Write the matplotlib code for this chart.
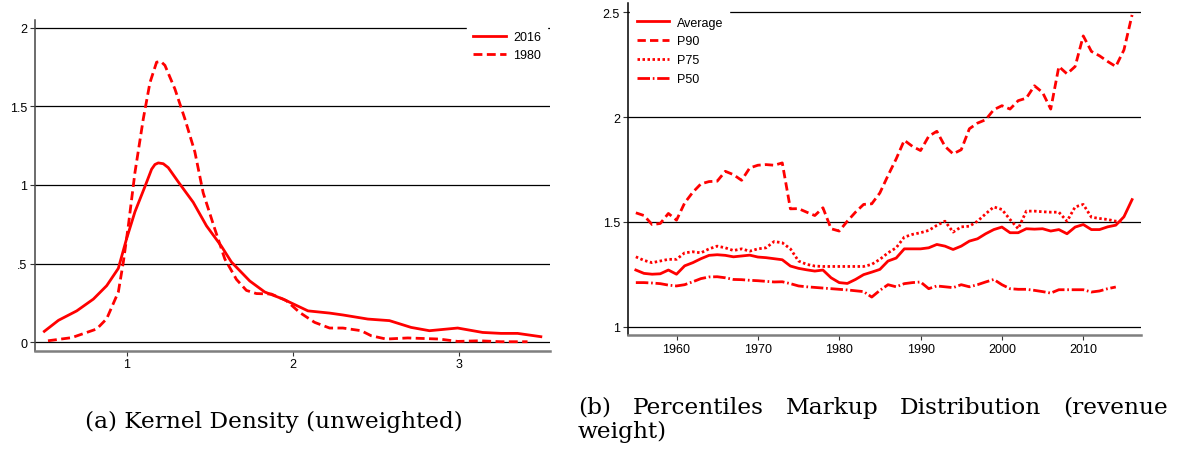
import matplotlib
matplotlib.use("Agg")
import matplotlib.pyplot as plt

# ---------------------------------------------------------------------------
# Dados
# ---------------------------------------------------------------------------
# (a) densidade kernel
kd_x_2016 = [0.505, 0.59, 0.70, 0.80, 0.88, 0.95, 1.00, 1.05, 1.11, 1.15, 1.17,
             1.19, 1.22, 1.25, 1.31, 1.40, 1.48, 1.57, 1.63, 1.74, 1.83, 1.94,
             2.00, 2.09, 2.22, 2.30, 2.45, 2.58, 2.71, 2.82, 2.99, 3.14, 3.25,
             3.35, 3.49]
kd_y_2016 = [0.07, 0.14, 0.20, 0.275, 0.36, 0.47, 0.66, 0.83, 0.99, 1.10, 1.13,
             1.14, 1.135, 1.11, 1.02, 0.89, 0.74, 0.61, 0.51, 0.39, 0.32, 0.275,
             0.245, 0.20, 0.186, 0.174, 0.148, 0.138, 0.095, 0.074, 0.091, 0.063,
             0.057, 0.057, 0.036]

kd_x_1980 = [0.527, 0.67, 0.82, 0.88, 0.95, 0.98, 1.01, 1.05, 1.10, 1.14, 1.18,
             1.205, 1.23, 1.29, 1.35, 1.41, 1.46, 1.53, 1.59, 1.66, 1.72, 1.78,
             1.87, 1.96, 2.04, 2.13, 2.22, 2.30, 2.41, 2.47, 2.56, 2.69, 2.88,
             2.99, 3.12, 3.25, 3.41]
kd_y_1980 = [0.01, 0.03, 0.085, 0.15, 0.32, 0.51, 0.74, 1.08, 1.42, 1.65, 1.78,
             1.785, 1.76, 1.61, 1.42, 1.21, 0.95, 0.72, 0.53, 0.40, 0.33, 0.31,
             0.307, 0.265, 0.19, 0.127, 0.091, 0.091, 0.074, 0.042, 0.021, 0.028,
             0.021, 0.006, 0.01, 0.004, 0.004]

# (b) percentis do markup
anos = list(range(1955, 2017))
media = [1.27, 1.254, 1.25, 1.252, 1.27, 1.25, 1.29, 1.305, 1.324, 1.34,
         1.343, 1.34, 1.333, 1.337, 1.341, 1.332, 1.329, 1.324, 1.319, 1.289,
         1.278, 1.271, 1.265, 1.27, 1.233, 1.21, 1.206, 1.225, 1.248, 1.26,
         1.273, 1.313, 1.327, 1.371, 1.371, 1.371, 1.376, 1.392, 1.384, 1.368,
         1.384, 1.408, 1.419, 1.443, 1.463, 1.475, 1.448, 1.448, 1.467, 1.465,
         1.467, 1.456, 1.463, 1.443, 1.475, 1.487, 1.463, 1.463, 1.476, 1.484,
         1.524, 1.606]
p90 = [1.543, 1.53, 1.487, 1.492, 1.54, 1.508, 1.59, 1.641, 1.681, 1.692,
       1.694, 1.741, 1.725, 1.698, 1.757, 1.770, 1.773, 1.770, 1.781, 1.562,
       1.563, 1.546, 1.53, 1.567, 1.467, 1.456, 1.503, 1.546, 1.583, 1.586,
       1.638, 1.721, 1.80, 1.889, 1.86, 1.84, 1.908, 1.932, 1.86, 1.824,
       1.844, 1.944, 1.971, 1.987, 2.035, 2.054, 2.038, 2.078, 2.09, 2.149,
       2.117, 2.038, 2.241, 2.206, 2.241, 2.387, 2.313, 2.292, 2.265, 2.241,
       2.32, 2.487]
anos_p75 = list(range(1955, 2016))
p75 = [1.333, 1.316, 1.305, 1.313, 1.321, 1.321, 1.352, 1.357, 1.352, 1.371,
       1.384, 1.376, 1.363, 1.371, 1.36, 1.371, 1.376, 1.406, 1.40, 1.371,
       1.313, 1.297, 1.289, 1.287, 1.287, 1.287, 1.287, 1.287, 1.287, 1.297,
       1.321, 1.352, 1.376, 1.427, 1.44, 1.448, 1.459, 1.483, 1.503, 1.451,
       1.476, 1.479, 1.503, 1.538, 1.571, 1.559, 1.511, 1.467, 1.551, 1.551,
       1.548, 1.546, 1.546, 1.503, 1.571, 1.583, 1.522, 1.516, 1.511, 1.503,
       1.50]
anos_p50 = list(range(1955, 2015))
p50 = [1.21, 1.21, 1.208, 1.205, 1.198, 1.194, 1.20, 1.214, 1.229, 1.237,
       1.238, 1.233, 1.225, 1.224, 1.221, 1.219, 1.216, 1.213, 1.214, 1.205,
       1.194, 1.19, 1.187, 1.184, 1.181, 1.178, 1.175, 1.171, 1.167, 1.141,
       1.173, 1.20, 1.19, 1.205, 1.21, 1.213, 1.181, 1.194, 1.19, 1.186,
       1.20, 1.19, 1.20, 1.213, 1.225, 1.20, 1.181, 1.178, 1.178, 1.173,
       1.167, 1.16, 1.176, 1.176, 1.176, 1.176, 1.165, 1.17, 1.181, 1.189]

kd_yticks = [0, 0.5, 1, 1.5, 2]
kd_yticklabels = ["0", ".5", "1", "1.5", "2"]
kd_xticks = [1, 2, 3]
pc_yticks = [1, 1.5, 2, 2.5]
pc_yticklabels = ["1", "1.5", "2", "2.5"]
pc_xticks = [1960, 1970, 1980, 1990, 2000, 2010]

legenda_a = "(a) Kernel Density (unweighted)"
legenda_b1 = ["(b)", "Percentiles", "Markup", "Distribution", "(revenue"]
legenda_b2 = "weight)"

VERMELHO = "#ff0000"
CINZA = "#7f7f7f"
W, H = 1177, 452

plt.rcParams["font.family"] = ["Liberation Sans", "DejaVu Sans"]
SERIF = ["DejaVu Serif"]


def estilo_eixo(ax, yticks, yticklabels, xticks, cor_esq):
    for s in ("top", "right"):
        ax.spines[s].set_visible(False)
    ax.spines["left"].set_color(cor_esq)
    ax.spines["left"].set_linewidth(1.1)
    ax.spines["bottom"].set_color(CINZA)
    ax.spines["bottom"].set_linewidth(1.8)
    for y in yticks:
        ax.axhline(y, color="black", linewidth=0.9, zorder=1)
    ax.set_yticks(yticks)
    ax.set_yticklabels(yticklabels)
    ax.set_xticks(xticks)
    ax.tick_params(axis="both", direction="out", length=3.6, width=0.8,
                   color="#333333", labelsize=9, pad=2)


def px_ax(x0, x1, y0, y1):
    return [x0 / W, 1 - y1 / H, (x1 - x0) / W, (y1 - y0) / H]


def fy(y):
    return 1 - y / H


fig = plt.figure(figsize=(W / 100, H / 100), dpi=100)

# ---------------------------------------------------------------------------
# (a) Kernel density
# ---------------------------------------------------------------------------
ax1 = fig.add_axes(px_ax(35, 550, 21, 351.7))
ax1.plot(kd_x_2016, kd_y_2016, color=VERMELHO, linewidth=2.0, zorder=3,
         solid_joinstyle="round", label="2016")
ax1.plot(kd_x_1980, kd_y_1980, color=VERMELHO, linewidth=2.0, zorder=3,
         dashes=(3.2, 1.6), label="1980")
ax1.set_xlim(0.449, 3.545)
ax1.set_ylim(-0.053, 2.048)
estilo_eixo(ax1, kd_yticks, kd_yticklabels, kd_xticks, "#444444")
ax1.legend(loc="upper right", bbox_to_anchor=(0.995, 0.985), fontsize=9,
           frameon=True, fancybox=False, framealpha=1, edgecolor="white",
           facecolor="white", handlelength=2.6, handletextpad=0.6,
           labelspacing=0.5, borderpad=0.5, borderaxespad=0)

# ---------------------------------------------------------------------------
# (b) Percentis
# ---------------------------------------------------------------------------
ax2 = fig.add_axes(px_ax(627.7, 1140.7, 4, 336))
ax2.plot(anos, media, color=VERMELHO, linewidth=2.0, zorder=3,
         solid_joinstyle="round", label="Average")
ax2.plot(anos, p90, color=VERMELHO, linewidth=2.0, zorder=3,
         dashes=(3.0, 1.5), label="P90")
ax2.plot(anos_p75, p75, color=VERMELHO, linewidth=2.0, zorder=3,
         dashes=(0.9, 0.9), label="P75")
ax2.plot(anos_p50, p50, color=VERMELHO, linewidth=2.0, zorder=3,
         dashes=(4.5, 1.0, 0.6, 1.0), label="P50")
ax2.set_xlim(1954, 2017.06)
ax2.set_ylim(0.96, 2.544)
estilo_eixo(ax2, pc_yticks, pc_yticklabels, pc_xticks, "black")
ax2.legend(loc="upper left", bbox_to_anchor=(0.005, 0.978), fontsize=9,
           frameon=True, fancybox=False, framealpha=1, edgecolor="white",
           facecolor="white", handlelength=2.6, handletextpad=0.6,
           labelspacing=0.55, borderpad=0.5, borderaxespad=0)

# ---------------------------------------------------------------------------
# Legendas das subfiguras (tamanho ajustado à largura medida)
# ---------------------------------------------------------------------------
renderer = fig.canvas.get_renderer()
tamanho = 15
ta = fig.text(274 / W, fy(422), legenda_a, family=SERIF, fontsize=tamanho,
              ha="center", va="center")
larg = ta.get_window_extent(renderer).width
tamanho = tamanho * 380 / larg
ta.set_fontsize(tamanho)

# linha 1 de (b) justificada entre x=578 e x=1168
x_ini, x_fim = 578, 1168
textos = [fig.text(0, fy(408), p, family=SERIF, fontsize=tamanho,
                   ha="left", va="center") for p in legenda_b1]
larguras = [t.get_window_extent(renderer).width for t in textos]
espaco = (x_fim - x_ini - sum(larguras)) / (len(textos) - 1)
x = x_ini
for t, w in zip(textos, larguras):
    t.set_x(x / W)
    x += w + espaco
fig.text(x_ini / W, fy(432), legenda_b2, family=SERIF, fontsize=tamanho,
         ha="left", va="center")

fig.savefig("out.png", dpi=100, facecolor="white")
